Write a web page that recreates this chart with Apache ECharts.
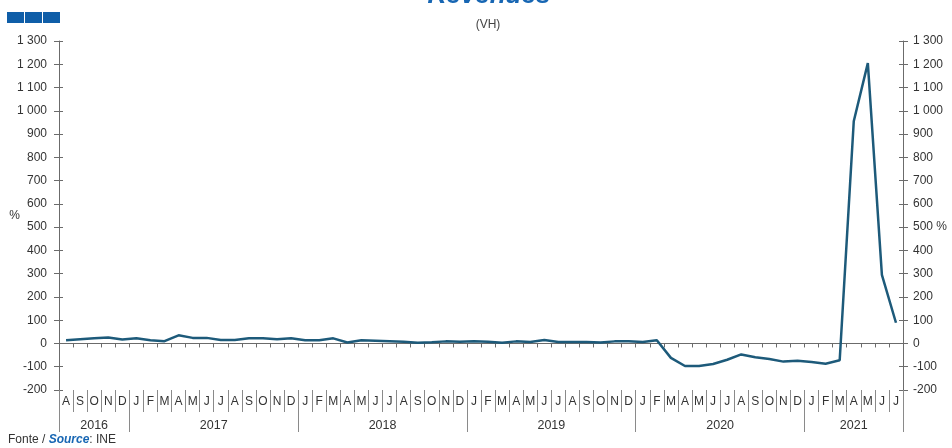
<!DOCTYPE html>
<html>
<head>
<meta charset="utf-8">
<script src="https://cdn.jsdelivr.net/npm/echarts@6/dist/echarts.min.js"></script>
<style>
html,body{margin:0;padding:0;background:#fff;}
#chart{width:952px;height:448px;}
</style>
</head>
<body>
<div id="chart"></div>
<script>
// Monthly categories: Aug 2016 .. Jul 2021
const months = [
  'A','S','O','N','D',
  'J','F','M','A','M','J','J','A','S','O','N','D',
  'J','F','M','A','M','J','J','A','S','O','N','D',
  'J','F','M','A','M','J','J','A','S','O','N','D',
  'J','F','M','A','M','J','J','A','S','O','N','D',
  'J','F','M','A','M','J','J'
];
const years = ['2016','2017','2018','2019','2020','2021'];
const monthsPerYear = [5,12,12,12,12,7];
// Revenues, year-on-year change (%)
const revenues = [
  14, 18, 22, 26, 17,
  22, 14, 10, 35, 24, 24, 15, 15, 22, 22, 18, 22,
  14, 14, 22, 4, 14, 12, 10, 7, 3, 5, 9, 7,
  10, 7, 3, 9, 6, 15, 6, 6, 6, 4, 9, 9,
  6, 14, -62, -97, -97, -88, -70, -47, -59, -67, -78, -74,
  -80, -87, -72, 955, 1205, 295, 89
];

// Half-month grid for the year axis (boundaryGap false): 2*N+1 points
const nMonths = months.length;
const yearAxisData = new Array(2 * nMonths + 1).fill('');
const yearBoundaries = new Set();
const yearLabelIdx = new Set();
let acc = 0;
yearBoundaries.add(0);
years.forEach((y, i) => {
  const start = acc, end = acc + monthsPerYear[i];
  const mid = start + end; // half-month index of centre
  yearAxisData[mid] = y;
  yearLabelIdx.add(mid);
  yearBoundaries.add(2 * end);
  acc = end;
});

function fmt(v) {
  const s = String(Math.abs(v)).replace(/\B(?=(\d{3})+(?!\d))/g, ' ');
  return (v < 0 ? '-' : '') + s;
}

const axisColor = '#6b6b6b';
const labelColor = '#333';
const FONT = 'Liberation Sans, Arial, sans-serif';

const chart = echarts.init(document.getElementById('chart'));
const yBase = {
  type: 'value', min: -200, max: 1300, interval: 100,
  splitLine: { show: false }
};
chart.setOption({
  animation: false,
  backgroundColor: '#fff',
  textStyle: { fontFamily: FONT },
  title: [
    { text: 'Revenues', left: 484, top: -22, textAlign: 'center',
      textStyle: { fontSize: 26, fontWeight: 'bold', fontStyle: 'italic', color: '#1766b3', fontFamily: FONT } },
    { text: '(VH)', left: 483, top: 14, textAlign: 'center',
      textStyle: { fontSize: 12, fontWeight: 'normal', color: '#444', fontFamily: FONT } }
  ],
  graphic: [
    { type: 'rect', left: 7, top: 12, shape: { width: 17, height: 11 }, style: { fill: '#0f5ea8' } },
    { type: 'rect', left: 25, top: 12, shape: { width: 17, height: 11 }, style: { fill: '#0f5ea8' } },
    { type: 'rect', left: 43, top: 12, shape: { width: 17, height: 11 }, style: { fill: '#0f5ea8' } },
    { type: 'text', left: 8, top: 434, style: {
        text: '{a|Fonte / }{b|Source}{a|: INE}',
        rich: {
          a: { fontSize: 12, fill: '#333', fontFamily: FONT },
          b: { fontSize: 12, fill: '#1766b3', fontWeight: 'bold', fontStyle: 'italic', fontFamily: FONT }
        }
    } }
  ],
  grid: { left: 59, right: 49, top: 41, bottom: 58, containLabel: false },
  xAxis: [
    { type: 'category', data: months, boundaryGap: true, gridIndex: 0,
      axisLine: { onZero: true, lineStyle: { color: axisColor, width: 1 } },
      axisTick: { show: true, length: 4, interval: 0, lineStyle: { color: axisColor } },
      axisLabel: { show: false }, splitLine: { show: false } },
    { type: 'category', data: months, boundaryGap: true, position: 'bottom', offset: 0,
      axisLine: { show: false, onZero: false },
      axisTick: { show: true, length: 22, interval: 0, lineStyle: { color: '#8a8a8a' } },
      axisLabel: { show: true, interval: 0, margin: 6, fontSize: 12, color: labelColor, fontFamily: FONT },
      splitLine: { show: false } },
    { type: 'category', data: yearAxisData, boundaryGap: false, position: 'bottom', offset: 0,
      axisLine: { show: false, onZero: false },
      axisTick: { show: true, length: 42, interval: (i) => yearBoundaries.has(i), lineStyle: { color: '#8a8a8a' } },
      axisLabel: { show: true, interval: (i) => yearLabelIdx.has(i), margin: 29, fontSize: 12.5, color: labelColor, fontFamily: FONT },
      splitLine: { show: false } }
  ],
  yAxis: [
    Object.assign({}, yBase, { position: 'left',
      name: '%', nameLocation: 'middle', nameRotate: 0, nameGap: 39, nameMoveOverlap: false,
      nameTextStyle: { fontSize: 12, color: labelColor, fontFamily: FONT },
      axisLine: { show: true, lineStyle: { color: axisColor } },
      axisTick: { show: true, length: 5, lineStyle: { color: axisColor } },
      axisLabel: { formatter: fmt, fontSize: 12, color: labelColor, margin: 12, fontFamily: FONT } }),
    Object.assign({}, yBase, { position: 'right',
      axisLine: { show: true, lineStyle: { color: axisColor } },
      axisTick: { show: true, length: 5, lineStyle: { color: axisColor } },
      axisLabel: { formatter: (v) => v === 500 ? '500 %' : fmt(v), fontSize: 12, color: labelColor, margin: 10, fontFamily: FONT } }),
    Object.assign({}, yBase, { position: 'left',
      axisLine: { show: false }, axisLabel: { show: false },
      axisTick: { show: true, inside: true, length: 4, lineStyle: { color: axisColor } } }),
    Object.assign({}, yBase, { position: 'right',
      axisLine: { show: false }, axisLabel: { show: false },
      axisTick: { show: true, inside: true, length: 4, lineStyle: { color: axisColor } } })
  ],
  series: [
    { type: 'line', name: 'Revenues', data: revenues, xAxisIndex: 0, yAxisIndex: 0,
      symbol: 'none', smooth: false,
      lineStyle: { color: '#1d5a7a', width: 2.5 } }
  ]
});
</script>
</body>
</html>
